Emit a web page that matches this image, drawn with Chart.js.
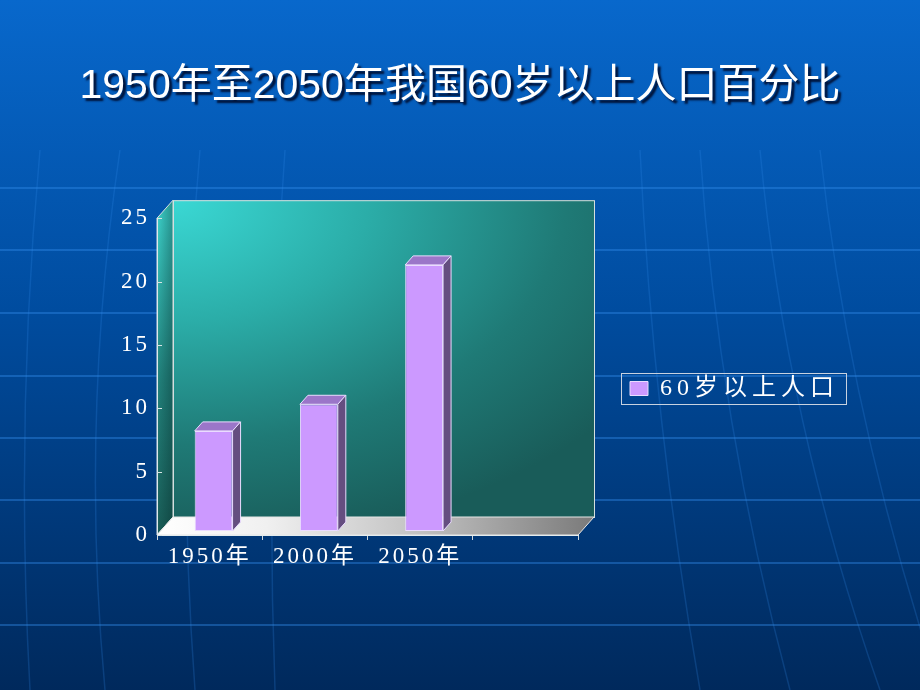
<!DOCTYPE html>
<html><head><meta charset="utf-8">
<script src="https://cdn.jsdelivr.net/npm/chart.js@4/dist/chart.umd.min.js"></script>
<style>html,body{margin:0;padding:0;background:#003a80;overflow:hidden}#wrap{width:920px;height:690px;position:relative}</style>
</head><body><div id="wrap"><canvas id="c"></canvas></div>
<script>
// ---- data ----
const titleText = '1950年至2050年我国60岁以上人口百分比';
const categories = ['1950年', '2000年', '2050年', ''];
const seriesName = '60岁以上人口';
const seriesValues = [7.9, 10.0, 21.0];
const yTicks = [0, 5, 10, 15, 20, 25];

// ---- styling constants ----
const DEPTH = {x: 16, y: -18};     // full floor depth
const BAR_OFF = {x: 4, y: -4};     // bar front plane offset
const BAR_DEPTH = {x: 8, y: -9};   // bar thickness
const SERIF = '"Liberation Serif", "Times New Roman", "Noto Sans CJK SC", serif';
const SANS = '"Liberation Sans", Arial, "Noto Sans CJK SC", sans-serif';

function poly(ctx, pts, fill, stroke, lw) {
  ctx.beginPath();
  ctx.moveTo(pts[0][0], pts[0][1]);
  for (let i = 1; i < pts.length; i++) ctx.lineTo(pts[i][0], pts[i][1]);
  ctx.closePath();
  if (fill) { ctx.fillStyle = fill; ctx.fill(); }
  if (stroke) { ctx.strokeStyle = stroke; ctx.lineWidth = lw || 1; ctx.stroke(); }
}

const scene = {
  id: 'scene',
  beforeUpdate(chart) {
    if (chart.$patched) return;
    chart.$patched = true;
    const lg = chart.legend;
    const ofit = lg.fit;
    lg.fit = function () { ofit.call(this); this.width = 342; };
    const odraw = lg.draw;
    lg.draw = function () { const c = this.ctx; c.save(); c.letterSpacing = '5px'; odraw.call(this); c.restore(); };
    const tb = chart.titleBlock;
    const tdraw = tb.draw;
    tb.draw = function () {
      const c = this.ctx; c.save();
      c.letterSpacing = '0px';
      c.shadowColor = 'rgba(0,15,50,0.95)'; c.shadowOffsetX = 3; c.shadowOffsetY = 3; c.shadowBlur = 2;
      tdraw.call(this); c.restore();
    };
  },
  afterLayout(chart) {
    const lg = chart.legend;
    lg.left = 621; lg.right = 846; lg.top = 373; lg.bottom = 404;
    lg.width = 225; lg.height = 31;
  },
  beforeDraw(chart) {
    const ctx = chart.ctx, W = chart.width, H = chart.height;
    const a = chart.chartArea;
    ctx.save();
    // slide background
    const bg = ctx.createLinearGradient(0, 0, 0, H);
    bg.addColorStop(0, '#0868cc');
    bg.addColorStop(0.45, '#004c9f');
    bg.addColorStop(1, '#00295c');
    ctx.fillStyle = bg; ctx.fillRect(0, 0, W, H);
    // globe grid decoration
    ctx.strokeStyle = 'rgba(50,140,235,0.4)'; ctx.lineWidth = 2;
    [188, 250, 313, 376, 438, 500, 563, 625].forEach(y => {
      ctx.beginPath(); ctx.moveTo(0, y); ctx.lineTo(W, y); ctx.stroke();
    });
    ctx.strokeStyle = 'rgba(50,140,235,0.22)'; ctx.lineWidth = 1.5;
    [[40, 15, 30], [120, 80, 105], [200, 175, 195], [285, 265, 275], [640, 653, 700], [700, 718, 790], [760, 785, 880], [820, 850, 940]].forEach(m => {
      ctx.beginPath(); ctx.moveTo(m[0], 150); ctx.quadraticCurveTo(m[1], 420, m[2], H); ctx.stroke();
    });
    // back wall
    const bl = a.left + DEPTH.x, bt = a.top + DEPTH.y, br = a.right + DEPTH.x, bb = a.bottom + DEPTH.y;
    ctx.save();
    ctx.translate(bl, bt); ctx.scale(1, 0.62);
    const rg = ctx.createRadialGradient(0, 0, 0, 0, 0, 560);
    rg.addColorStop(0, '#3ad8d4');
    rg.addColorStop(0.35, '#2bada8');
    rg.addColorStop(0.7, '#1f7a76');
    rg.addColorStop(1, '#195c59');
    ctx.fillStyle = rg;
    ctx.fillRect(0, 0, br - bl, (bb - bt) / 0.62);
    ctx.restore();
    ctx.strokeStyle = '#d4dede'; ctx.lineWidth = 1;
    ctx.strokeRect(bl + 0.5, bt + 0.5, br - bl, bb - bt);
    // side wall
    const sg = ctx.createLinearGradient(0, a.top, 0, a.bottom);
    sg.addColorStop(0, '#3ccfc8'); sg.addColorStop(0.5, '#23857f'); sg.addColorStop(1, '#1a5e58');
    const side = [[a.left, a.top], [bl, bt], [bl, bb], [a.left, a.bottom]];
    poly(ctx, side, sg);
    const sh = ctx.createLinearGradient(a.left, 0, bl, 0);
    sh.addColorStop(0, 'rgba(0,30,30,0)'); sh.addColorStop(1, 'rgba(0,30,30,0.35)');
    poly(ctx, side, sh, '#d4dede', 1);
    // floor
    const fg = ctx.createLinearGradient(a.left, 0, br, 0);
    fg.addColorStop(0, '#ffffff'); fg.addColorStop(0.25, '#f0f0f0');
    fg.addColorStop(0.6, '#c2c2c2'); fg.addColorStop(1, '#7a7a7a');
    poly(ctx, [[a.left, a.bottom], [bl, bb], [br, bb], [a.right, a.bottom]], fg, '#e6e6e6', 1);
    ctx.restore();
    ctx.letterSpacing = '3px';
  },
  beforeDatasetDraw(chart) {
    chart.ctx.save();
    chart.ctx.translate(BAR_OFF.x, BAR_OFF.y);
  },
  afterDatasetDraw(chart) {
    chart.ctx.restore();
  },
  afterDatasetsDraw(chart) {
    const ctx = chart.ctx;
    ctx.save();
    const meta = chart.getDatasetMeta(0);
    meta.data.forEach(bar => {
      const p = bar.getProps(['x', 'y', 'base', 'width'], true);
      if (!isFinite(p.y)) return;
      const l = p.x - p.width / 2 + BAR_OFF.x, r = p.x + p.width / 2 + BAR_OFF.x;
      const t = p.y + BAR_OFF.y, b = p.base + BAR_OFF.y;
      poly(ctx, [[l, t], [l + BAR_DEPTH.x, t + BAR_DEPTH.y], [r + BAR_DEPTH.x, t + BAR_DEPTH.y], [r, t]], '#9b76c9', '#eadcff', 1);
      poly(ctx, [[r, t], [r + BAR_DEPTH.x, t + BAR_DEPTH.y], [r + BAR_DEPTH.x, b + BAR_DEPTH.y], [r, b]], '#654e80', '#eadcff', 1);
    });
    // y ticks inside the side wall
    const ys = chart.scales.y, a = chart.chartArea;
    ctx.strokeStyle = '#d8e4e4'; ctx.lineWidth = 1;
    yTicks.forEach(v => {
      const py = Math.round(ys.getPixelForValue(v)) + 0.5;
      ctx.beginPath(); ctx.moveTo(a.left, py); ctx.lineTo(a.left + 5, py); ctx.stroke();
    });
    ctx.restore();
  },
  afterDraw(chart) {
    const ctx = chart.ctx, lg = chart.legend;
    ctx.save();
    ctx.strokeStyle = '#c8d2e0'; ctx.lineWidth = 1;
    ctx.strokeRect(lg.left + 0.5, lg.top + 0.5, lg.width, lg.height);
    ctx.restore();
  }
};

new Chart(document.getElementById('c'), {
  type: 'bar',
  data: {
    labels: categories,
    datasets: [{
      label: seriesName,
      data: seriesValues,
      backgroundColor: '#cc99ff',
      borderColor: '#eadcff',
      borderWidth: 1,
      borderSkipped: false,
      categoryPercentage: 0.8,
      barPercentage: 0.45,
      clip: false
    }]
  },
  options: {
    responsive: true,
    maintainAspectRatio: false,
    animation: false,
    layout: {padding: 0},
    plugins: {
      title: {
        display: true, text: titleText, color: '#ffffff',
        font: {family: SANS, size: 41, weight: 'normal', lineHeight: 1.2},
        padding: {top: 62, bottom: 107}
      },
      legend: {
        display: true, position: 'right',
        labels: {
          color: '#ffffff', boxWidth: 18, boxHeight: 14, padding: 9,
          font: {family: SERIF, size: 24}
        }
      },
      tooltip: {enabled: false}
    },
    scales: {
      x: {
        grid: {display: true, drawOnChartArea: false, drawTicks: true, tickLength: 5, color: '#d0d8dc', offset: true},
        border: {display: true, color: '#e4ecee'},
        ticks: {color: '#ffffff', padding: 3, maxRotation: 0, autoSkip: false, font: {family: SERIF, size: 23}},
        afterFit(s) { s.height = 155; }
      },
      y: {
        min: yTicks[0], max: yTicks[yTicks.length - 1],
        grid: {display: false, drawTicks: false},
        border: {display: true, color: '#dfe8ec'},
        ticks: {stepSize: yTicks[1] - yTicks[0], color: '#ffffff', padding: 7, font: {family: SERIF, size: 23}},
        afterFit(s) { s.width = 157; }
      }
    }
  },
  plugins: [scene]
});
</script>
</body></html>
